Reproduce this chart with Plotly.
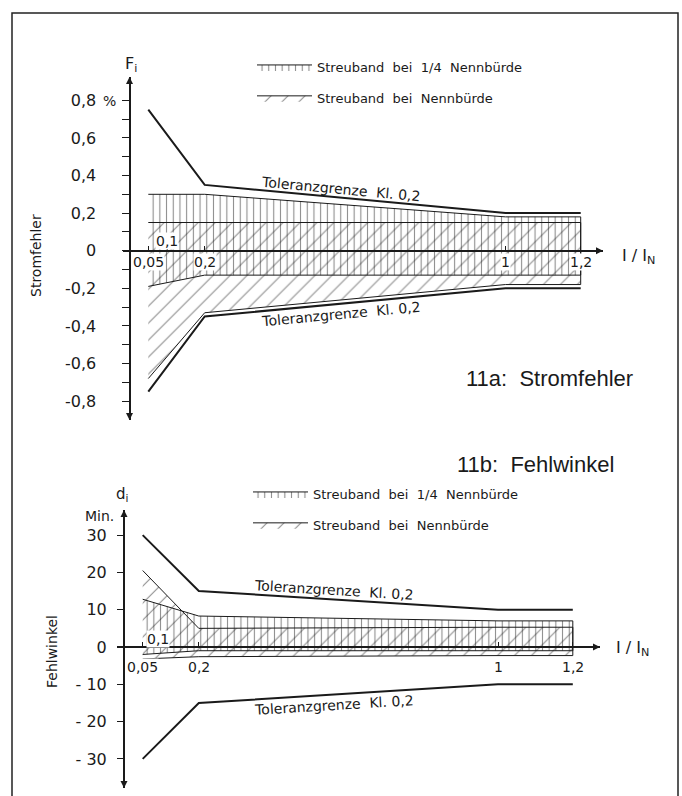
import plotly.graph_objects as go

W, H = 682, 796

# ---------------- data ----------------
x_pts = [0.05, 0.2, 1.0, 1.2]

# 11a Stromfehler (%)
fi_tol_upper = [0.75, 0.35, 0.2, 0.2]
fi_tol_lower = [-0.75, -0.35, -0.2, -0.2]
fi_quarter_top = [0.30, 0.30, 0.18, 0.18]
fi_quarter_bot = [-0.19, -0.13, -0.13, -0.13]
fi_rated_top = [0.15, 0.15, 0.15, 0.15]
fi_rated_bot = [-0.68, -0.33, -0.18, -0.18]

# 11b Fehlwinkel (Min.)
di_tol_upper = [30, 15, 10, 10]
di_tol_lower = [-30, -15, -10, -10]
di_quarter_top = [12.8, 8.3, 7.0, 7.0]
di_quarter_bot = [-2.0, -1.0, -1.0, -1.0]
di_rated_top = [20.5, 5.0, 5.3, 5.3]
di_rated_bot = [-3.2, -2.6, -2.3, -2.3]

x_tick_vals = [0.05, 0.1, 0.2, 1.0, 1.2]
x_tick_text = ["0,05", "0,1", "0,2", "1", "1,2"]

fi_tick_vals = [0.8, 0.6, 0.4, 0.2, 0.0, -0.2, -0.4, -0.6, -0.8]
fi_tick_text = ["0,8", "0,6", "0,4", "0,2", "0", "-0,2", "-0,4", "-0,6", "-0,8"]
fi_minor_vals = [0.7, 0.5, 0.3, 0.1, -0.1, -0.3, -0.5, -0.7]

di_tick_vals = [30, 20, 10, 0, -10, -20, -30]
di_tick_text = ["30", "20", "10", "0", "- 10", "- 20", "- 30"]

label_quarter = "Streuband  bei  1/4  Nennbürde"
label_rated = "Streuband  bei  Nennbürde"
label_tol = "Toleranzgrenze  Kl. 0,2"

# ---------------- geometry (pixels) ----------------
def px_x(p):
    return p / W

def px_y(p):
    return 1 - p / H

# top chart: x=0 at px 129.5, 376 px/unit; y=0 at px 250.7, 188 px/unit
T_X0, T_XS, T_Y0, T_YS = 129.5, 376.0, 250.7, 188.0
T_L, T_R, T_T, T_B = 123, 603, 77, 420
t_xr = [(T_L - T_X0) / T_XS, (T_R - T_X0) / T_XS]
t_yr = [(T_Y0 - T_B) / T_YS, (T_Y0 - T_T) / T_YS]

# bottom chart: x=0 at px 124, 374 px/unit; y=0 at px 647, 3.73 px/unit
B_X0, B_XS, B_Y0, B_YS = 124.0, 374.0, 647.0, 3.73
B_L, B_R, B_T, B_B = 117, 600, 510, 788
b_xr = [(B_L - B_X0) / B_XS, (B_R - B_X0) / B_XS]
b_yr = [(B_Y0 - B_B) / B_YS, (B_Y0 - B_T) / B_YS]

FONT = "DejaVu Sans"
BLACK = "#1a1a1a"

fig = go.Figure()


def band(xs, top, bot, shape, size, sol, name, xa, ya, legend):
    fig.add_trace(go.Scatter(
        x=xs + xs[::-1], y=top + bot[::-1], xaxis=xa, yaxis=ya,
        mode="lines", fill="toself", fillcolor="rgba(0,0,0,0)",
        fillpattern=dict(shape=shape, size=size, solidity=sol, fgcolor=BLACK,
                         bgcolor="rgba(0,0,0,0)", fillmode="overlay"),
        line=dict(color=BLACK, width=1), name=name, legend=legend,
        legendgroup=name + legend, hoverinfo="skip"))


def tol(xs, ys, xa, ya):
    fig.add_trace(go.Scatter(x=xs, y=ys, xaxis=xa, yaxis=ya, mode="lines",
                             line=dict(color=BLACK, width=2), showlegend=False,
                             hoverinfo="skip"))


def arrows(xr, yr, xa, ya):
    fig.add_trace(go.Scatter(
        x=[0, 0, xr[1]], y=[yr[1], yr[0], 0], xaxis=xa, yaxis=ya, mode="markers",
        marker=dict(symbol=["arrow-up", "arrow-down", "arrow-right"], size=7,
                    color=BLACK, line=dict(width=0)),
        cliponaxis=False, showlegend=False, hoverinfo="skip"))


# top
band(x_pts, fi_quarter_top, fi_quarter_bot, "|", 6.7, 0.16, label_quarter, "x", "y", "legend")
band(x_pts, fi_rated_top, fi_rated_bot, "/", 12, 0.09, label_rated, "x", "y", "legend")
tol(x_pts, fi_tol_upper, "x", "y")
tol(x_pts, fi_tol_lower, "x", "y")
arrows(t_xr, t_yr, "x", "y")

# bottom
band(x_pts, di_quarter_top, di_quarter_bot, "|", 6.7, 0.16, label_quarter, "x2", "y2", "legend2")
band(x_pts, di_rated_top, di_rated_bot, "/", 12, 0.09, label_rated, "x2", "y2", "legend2")
tol(x_pts, di_tol_upper, "x2", "y2")
tol(x_pts, di_tol_lower, "x2", "y2")
arrows(b_xr, b_yr, "x2", "y2")

tickfont = dict(family=FONT, size=16, color=BLACK)

common_x = dict(showline=True, linecolor=BLACK, linewidth=2, showgrid=False,
                zeroline=False, ticks="inside", ticklen=4, tickwidth=1,
                tickcolor=BLACK, tickvals=x_tick_vals, showticklabels=False,
                anchor="free", fixedrange=True)
common_y = dict(showline=True, linecolor=BLACK, linewidth=2, showgrid=False,
                zeroline=False, ticks="outside", ticklen=7, tickwidth=1,
                tickcolor=BLACK, tickfont=tickfont, anchor="free", fixedrange=True)

fig.update_layout(
    width=W, height=H, margin=dict(l=0, r=0, t=0, b=0),
    paper_bgcolor="white", plot_bgcolor="white",
    xaxis=dict(common_x, domain=[px_x(T_L), px_x(T_R)], range=t_xr,
               position=px_y(T_Y0)),
    yaxis=dict(common_y, domain=[px_y(T_B), px_y(T_T)], range=t_yr,
               position=px_x(T_X0), tickvals=fi_tick_vals, ticktext=fi_tick_text,
               ticklabelstandoff=22,
               minor=dict(tickmode="array", tickvals=fi_minor_vals, ticks="outside",
                          ticklen=7, tickwidth=1, tickcolor=BLACK, showgrid=False)),
    xaxis2=dict(common_x, domain=[px_x(B_L), px_x(B_R)], range=b_xr,
                position=px_y(B_Y0)),
    yaxis2=dict(common_y, domain=[px_y(B_B), px_y(B_T)], range=b_yr,
                position=px_x(B_X0), tickvals=di_tick_vals, ticktext=di_tick_text,
                ticklabelstandoff=7, ticklen=6),
    legend=dict(x=px_x(252), y=px_y(52), xanchor="left", yanchor="top",
                font=dict(family=FONT, size=13, color=BLACK), itemwidth=55,
                tracegroupgap=11, bgcolor="rgba(0,0,0,0)"),
    legend2=dict(x=px_x(248), y=px_y(479), xanchor="left", yanchor="top",
                 font=dict(family=FONT, size=13, color=BLACK), itemwidth=55,
                 tracegroupgap=11, bgcolor="rgba(0,0,0,0)"),
    showlegend=True,
)

ann = []
# x tick labels with white knock-out
for v, t in zip(x_tick_vals, x_tick_text):
    if v == 0.1:
        ann.append(dict(x=v, y=0, xref="x", yref="y", text=t, showarrow=False,
                        yshift=10, font=dict(family=FONT, size=14, color=BLACK),
                        bgcolor="white", borderpad=0))
        ann.append(dict(x=v, y=0, xref="x2", yref="y2", text=t, showarrow=False,
                        yshift=8, xshift=-3, font=dict(family=FONT, size=14, color=BLACK),
                        bgcolor="white", borderpad=0))
    else:
        ann.append(dict(x=v, y=0, xref="x", yref="y", text=t, showarrow=False,
                        yshift=-11, font=dict(family=FONT, size=14, color=BLACK),
                        bgcolor="white", borderpad=0))
        ann.append(dict(x=v, y=0, xref="x2", yref="y2", text=t, showarrow=False,
                        yshift=-20, font=dict(family=FONT, size=14, color=BLACK),
                        bgcolor="white", borderpad=0))

# tolerance labels
tf = dict(family=FONT, size=14, color=BLACK)
ann += [
    dict(x=0.5625, y=0.33, xref="x", yref="y", text=label_tol, showarrow=False,
         textangle=5.3, font=tf),
    dict(x=0.5625, y=-0.335, xref="x", yref="y", text=label_tol, showarrow=False,
         textangle=-5.3, font=tf),
    dict(x=0.5625, y=15.3, xref="x2", yref="y2", text=label_tol, showarrow=False,
         textangle=3.5, font=tf),
    dict(x=0.5625, y=-15.6, xref="x2", yref="y2", text=label_tol, showarrow=False,
         textangle=-3.5, font=tf),
]

# axis titles and other text (paper)
def ptxt(px, py, text, size=14, angle=0, family=FONT, xanchor="center"):
    return dict(x=px_x(px), y=px_y(py), xref="paper", yref="paper", text=text,
                showarrow=False, textangle=angle, xanchor=xanchor, yanchor="middle",
                font=dict(family=family, size=size, color=BLACK))

ann += [
    ptxt(131, 64, "F<sub>i</sub>", 16),
    ptxt(109, 101, "%", 14),
    ptxt(36, 256, "Stromfehler", 14, -90),
    ptxt(638, 256, "I / I<sub>N</sub>", 16),
    ptxt(122, 494, "d<sub>i</sub>", 15),
    ptxt(99, 516, "Min.", 14),
    ptxt(52, 652, "Fehlwinkel", 14, -90),
    ptxt(632, 648, "I / I<sub>N</sub>", 16),
    ptxt(549, 378, "11a:  Stromfehler", 22, 0, "Liberation Sans"),
    ptxt(535, 465, "11b:  Fehlwinkel", 22, 0, "Liberation Sans"),
]
fig.update_layout(annotations=ann)

# outer frame
fig.add_shape(type="rect", xref="paper", yref="paper", x0=px_x(12), x1=px_x(678),
              y0=px_y(13), y1=-0.2, line=dict(color="#222", width=1.5),
              fillcolor="rgba(0,0,0,0)", layer="below")

fig.write_html("out.html", config={"displayModeBar": False},
               post_script="document.body.style.margin='0';document.body.style.overflow='hidden';")
